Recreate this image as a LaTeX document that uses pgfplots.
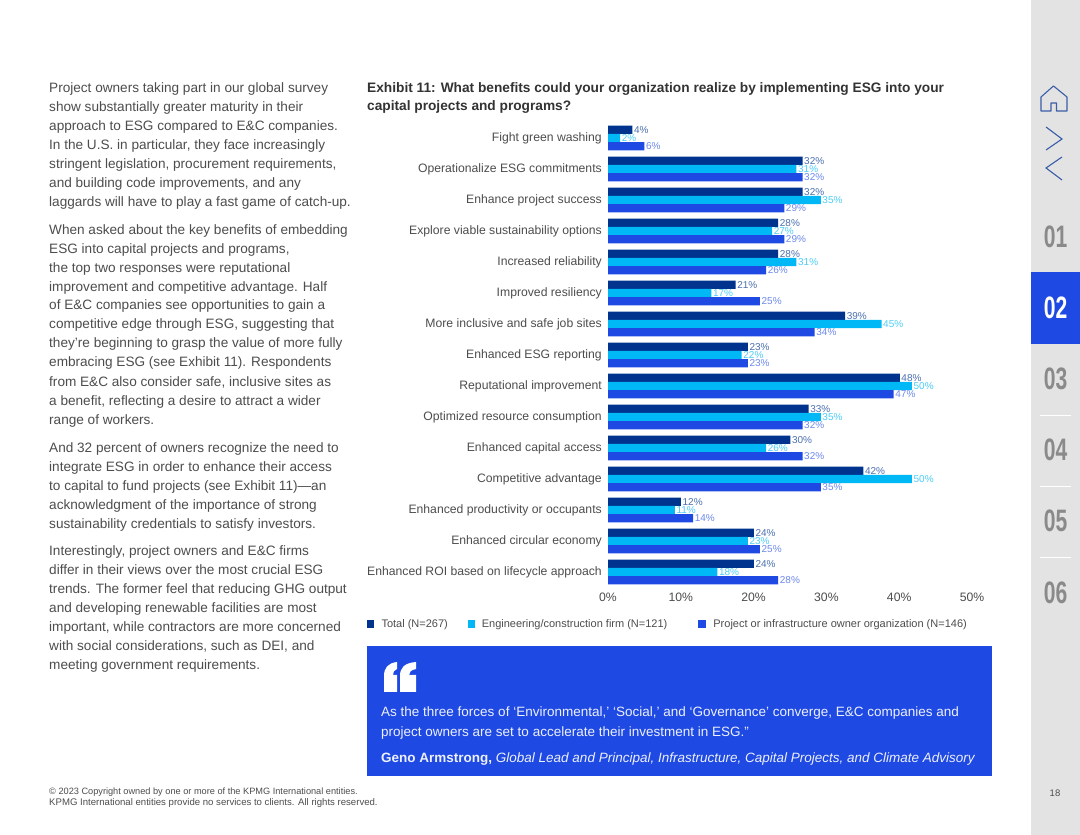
\documentclass[border=0pt]{standalone}
\usepackage{fontspec}
\usepackage{graphicx}
\usepackage{pgfplots}
\usepackage{pgfplotstable}
\pgfplotsset{compat=1.18}
\setmainfont{Liberation Sans}
\definecolor{kdark}{HTML}{00338D}
\definecolor{kcyan}{HTML}{00B8F5}
\definecolor{kblue}{HTML}{1E49E2}
\definecolor{bodytxt}{HTML}{4D4D4D}
\definecolor{sidebar}{HTML}{E3E3E3}
\definecolor{sidenum}{HTML}{8A8A8A}
\definecolor{icon}{HTML}{3A5DA8}
\newcommand\fs[1]{\fontsize{#1}{#1}\selectfont}
\newcommand\bl[2]{\node[anchor=base west,inner sep=0pt,text=bodytxt] at (49,#1+4.5) {\fs{13.6}#2};}
\newcommand\sn[3][sidenum]{\node[text=#1,inner sep=0pt] at (1055.5,#2) {\scalebox{0.68}[1]{\fs{31}\bfseries #3}};}

% row: labelled percentages, top to bottom
\pgfplotstableread{
row total eng owner
0   4  2  6
1   32 31 32
2   32 35 29
3   28 27 29
4   28 31 26
5   21 17 25
6   39 45 34
7   23 22 23
8   48 50 47
9   33 35 32
10  30 26 32
11  42 50 35
12  12 11 14
13  24 23 25
14  24 18 28
}\benefits

\begin{document}
\begin{tikzpicture}
\path[use as bounding box] (0pt,0pt) rectangle (1080pt,835pt);
\begin{scope}[x=1pt,y=-1pt,shift={(0pt,835pt)}]
\fill[white] (0,0) rectangle (1080,835);
\fill[sidebar] (1031,0) rectangle (1080,835);
\fill[kblue] (1031,272) rectangle (1080,344);
\foreach \y in {415,486,557} \draw[white,line width=0.8pt] (1040,\y) -- (1071,\y);
\sn{237}{01}
\sn[white]{308}{02}
\sn{379}{03}
\sn{450}{04}
\sn{521}{05}
\sn{593}{06}
% nav icons
\draw[icon,line width=1.1pt,line join=round] (1041,97) -- (1053.5,86) -- (1067,97) -- (1067,111) -- (1056.5,111) -- (1056.5,103) -- (1051,103) -- (1051,111) -- (1041,111) -- cycle;
\draw[icon,line width=1.1pt] (1046,127) -- (1062,139) -- (1046,150);
\draw[icon,line width=1.1pt] (1062,157) -- (1046,168) -- (1062,180);
% left column
\bl{88}{Project owners taking part in our global survey}
\bl{107}{show substantially greater maturity in their}
\bl{126}{approach to ESG compared to E\&C companies.}
\bl{145}{In the U.S. in particular, they face increasingly}
\bl{164}{stringent legislation, procurement requirements,}
\bl{183}{and building code improvements, and any}
\bl{202}{laggards will have to play a fast game of catch-up.}
\bl{230}{When asked about the key benefits of embedding}
\bl{249}{ESG into capital projects and programs,}
\bl{268}{the top two responses were reputational}
\bl{287}{improvement and competitive advantage. Half}
\bl{305}{of E\&C companies see opportunities to gain a}
\bl{324}{competitive edge through ESG, suggesting that}
\bl{343}{they’re beginning to grasp the value of more fully}
\bl{362}{embracing ESG (see Exhibit 11). Respondents}
\bl{382}{from E\&C also consider safe, inclusive sites as}
\bl{401}{a benefit, reflecting a desire to attract a wider}
\bl{420}{range of workers.}
\bl{448}{And 32 percent of owners recognize the need to}
\bl{467}{integrate ESG in order to enhance their access}
\bl{486}{to capital to fund projects (see Exhibit 11)—an}
\bl{505}{acknowledgment of the importance of strong}
\bl{524}{sustainability credentials to satisfy investors.}
\bl{551}{Interestingly, project owners and E\&C firms}
\bl{570}{differ in their views over the most crucial ESG}
\bl{589}{trends. The former feel that reducing GHG output}
\bl{608}{and developing renewable facilities are most}
\bl{627}{important, while contractors are more concerned}
\bl{646}{with social considerations, such as DEI, and}
\bl{665}{meeting government requirements.}
% exhibit title
\node[anchor=base west,inner sep=0pt,text=black!80] at (367,92.5) {\fs{13.7}\bfseries Exhibit 11: What benefits could your organization realize by implementing ESG into your};
\node[anchor=base west,inner sep=0pt,text=black!80] at (367,111) {\fs{13.7}\bfseries capital projects and programs?};
% quote box
\fill[kblue] (367,646) rectangle (992,776);
\fill[white] (384,692) -- (384,676) .. controls (384,668) and (388,663) .. (397,662) -- (397,669) .. controls (394,670) and (393,672) .. (393,675) -- (397,675) -- (397,692) -- cycle;
\fill[white] (400,692) -- (400,676) .. controls (400,668) and (404,663) .. (416,662) -- (416,669) .. controls (411,670) and (409,672) .. (409,675) -- (416,675) -- (416,692) -- cycle;
\node[anchor=base west,inner sep=0pt,text=white!92!kblue] at (381,717) {\fs{13.5}As the three forces of ‘Environmental,’ ‘Social,’ and ‘Governance’ converge, E\&C companies and};
\node[anchor=base west,inner sep=0pt,text=white!92!kblue] at (381,737) {\fs{13.5}project owners are set to accelerate their investment in ESG.”};
\node[anchor=base west,inner sep=0pt,text=white!92!kblue] at (381,763) {\fs{13.5}\textbf{Geno Armstrong,} \textit{Global Lead and Principal, Infrastructure, Capital Projects, and Climate Advisory}};
% footer
\node[anchor=base west,inner sep=0pt,text=bodytxt] at (49,795) {\fs{9.2}© 2023 Copyright owned by one or more of the KPMG International entities.};
\node[anchor=base west,inner sep=0pt,text=bodytxt] at (49,806) {\fs{9.6}KPMG International entities provide no services to clients. All rights reserved.};
\node[inner sep=0pt,text=bodytxt] at (1055,793) {\fs{9.5}18};
\end{scope}

\begin{axis}[
    at={(608pt,247.5pt)},
    anchor=south west,
    scale only axis,
    width=364pt,
    height=465pt,
    xmin=0, xmax=59.88,
    ymin=-0.5, ymax=14.5,
    y dir=reverse,
    xbar,
    bar width=8.2pt,
    xtick={0,11.976,23.952,35.928,47.904,59.88},
    xticklabels={0\%,10\%,20\%,30\%,40\%,50\%},
    ytick={0,...,14},
    yticklabels={Fight green washing,Operationalize ESG commitments,Enhance project success,Explore viable sustainability options,Increased reliability,Improved resiliency,More inclusive and safe job sites,Enhanced ESG reporting,Reputational improvement,Optimized resource consumption,Enhanced capital access,Competitive advantage,Enhanced productivity or occupants,Enhanced circular economy,Enhanced ROI based on lifecycle approach},
    axis line style={draw=none},
    tick style={draw=none},
    major tick length=0pt,
    tick label style={text=bodytxt,font=\fs{12.2}},
    yticklabel style={inner sep=0pt,xshift=-6pt},
    xticklabel style={inner sep=0pt,yshift=-5pt},
    /pgf/number format/assume math mode=true,
    clip=false,
    point meta=x,
    nodes near coords={\pgfmathprintnumber{\pgfplotspointmeta}\%},
    every node near coord/.append style={font=\fs{10},inner sep=1.5pt,anchor=west},
    legend style={
        at={(-0.664,-0.0785)},anchor=west,draw=none,fill=none,
        font=\fs{11},text=bodytxt,inner sep=0pt,
        /tikz/column 1/.style={column sep=5.5pt},
        /tikz/column 2/.style={column sep=18pt},
        /tikz/column 3/.style={column sep=4.5pt},
        /tikz/column 4/.style={column sep=29pt},
        /tikz/column 5/.style={column sep=5.5pt},
    },
    legend columns=3,
    legend cell align=left,
    legend image code/.code={\fill[#1,draw=none] (0pt,-3.6pt) rectangle (7.5pt,3.6pt);},
]
\addplot[fill=kdark,draw=none,bar shift=8.2pt,every node near coord/.append style={text=kdark!70!white}] table[x=total,y=row] {\benefits};
\addplot[fill=kcyan,draw=none,bar shift=0pt,every node near coord/.append style={text=kcyan!70!white}] table[x=eng,y=row] {\benefits};
\addplot[fill=kblue,draw=none,bar shift=-8.2pt,every node near coord/.append style={text=kblue!65!white}] table[x=owner,y=row] {\benefits};
\legend{Total (N=267),Engineering/construction firm (N=121),Project or infrastructure owner organization (N=146)}
\end{axis}
\end{tikzpicture}
\end{document}
